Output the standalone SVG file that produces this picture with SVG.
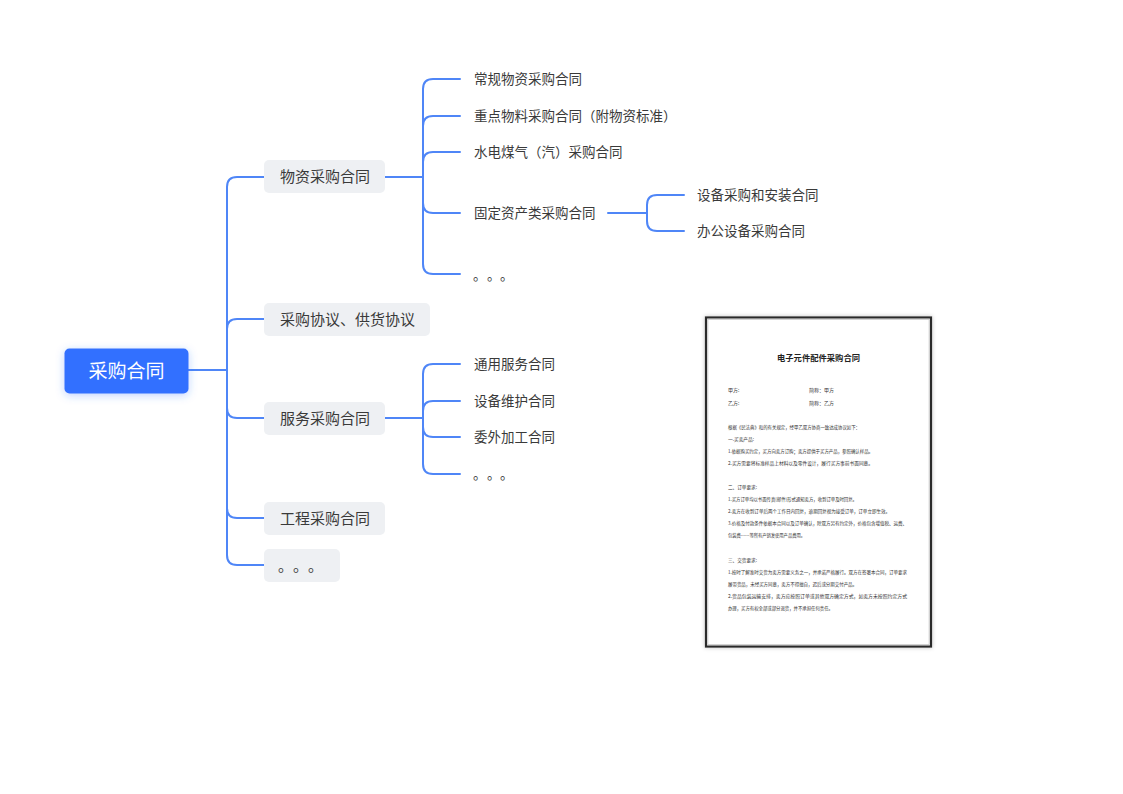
<svg xmlns="http://www.w3.org/2000/svg" width="1123" height="794" viewBox="0 0 1123 794">
<defs>
<filter id="rootShadow" x="-30%" y="-50%" width="160%" height="200%">
<feDropShadow dx="0" dy="2" stdDeviation="4" flood-color="#3370ff" flood-opacity="0.3"/>
</filter>
<filter id="docShadow" x="-10%" y="-10%" width="120%" height="120%">
<feDropShadow dx="0" dy="0" stdDeviation="2" flood-color="#000" flood-opacity="0.25"/>
</filter>
<style>
.conn{fill:none;stroke:#4f86f7;stroke-width:2;stroke-linecap:round;stroke-linejoin:round}
.t{font-family:"Noto Sans CJK SC","Noto Sans",sans-serif;}
.root{fill:#fff;font-size:19px}
.l1box{fill:#eef0f3}
.l1{fill:#3a3a3a;font-size:15px}
.l2{fill:#3a3a3a;font-size:13.5px}
.doc{fill:#333;font-size:5px}
.doct{fill:#222;font-size:8px;font-weight:bold}
</style>
</defs>
<rect width="1123" height="794" fill="#fff"/>

<g id="connectors">
<path class="conn" d="M188,370 H227"/>
<path class="conn" d="M227,370 V187 Q227,177 237,177 H264"/>
<path class="conn" d="M227,370 V329 Q227,319 237,319 H264"/>
<path class="conn" d="M227,370 V408 Q227,418 237,418 H264"/>
<path class="conn" d="M227,370 V508 Q227,518 237,518 H264"/>
<path class="conn" d="M227,370 V555 Q227,565 237,565 H264"/>

<path class="conn" d="M385,177 H423"/>
<path class="conn" d="M423,177 V89 Q423,79 433,79 H460"/>
<path class="conn" d="M423,177 V126 Q423,116 433,116 H460"/>
<path class="conn" d="M423,177 V162 Q423,152 433,152 H460"/>
<path class="conn" d="M423,177 V203 Q423,213 433,213 H460"/>
<path class="conn" d="M423,177 V264 Q423,274 433,274 H460"/>

<path class="conn" d="M608,213 H647"/>
<path class="conn" d="M647,213 V205 Q647,195 657,195 H684"/>
<path class="conn" d="M647,213 V221 Q647,231 657,231 H684"/>

<path class="conn" d="M385,418 H423"/>
<path class="conn" d="M423,418 V374 Q423,364 433,364 H460"/>
<path class="conn" d="M423,418 V411 Q423,401 433,401 H460"/>
<path class="conn" d="M423,418 V427 Q423,437 433,437 H460"/>
<path class="conn" d="M423,418 V464 Q423,474 433,474 H460"/>
</g>

<g id="root">
<rect x="64.5" y="348.5" width="124" height="45" rx="5" fill="#3370ff" filter="url(#rootShadow)"/>
<text class="t root" x="126.5" y="377.5" text-anchor="middle">采购合同</text>
</g>

<g id="n-wuzi">
<rect class="l1box" x="264" y="160" width="121" height="33" rx="5"/>
<text class="t l1" x="280" y="182">物资采购合同</text>
</g>
<g id="n-xieyi">
<rect class="l1box" x="264" y="303" width="166" height="33" rx="5"/>
<text class="t l1" x="280" y="324.5">采购协议、供货协议</text>
</g>
<g id="n-fuwu">
<rect class="l1box" x="264" y="402" width="121" height="33" rx="5"/>
<text class="t l1" x="280" y="423.5">服务采购合同</text>
</g>
<g id="n-gongcheng">
<rect class="l1box" x="264" y="502" width="121" height="33" rx="5"/>
<text class="t l1" x="280" y="523.5">工程采购合同</text>
</g>
<g id="n-more1">
<rect class="l1box" x="264" y="549" width="76" height="33" rx="5"/>
<text class="t l1" y="571"><tspan x="278">。</tspan><tspan x="293">。</tspan><tspan x="308">。</tspan></text>
</g>

<g id="n-changgui"><text class="t l2" x="474" y="84">常规物资采购合同</text></g>
<g id="n-zhongdian"><text class="t l2" x="474" y="121">重点物料采购合同（附物资标准）</text></g>
<g id="n-shuidian"><text class="t l2" x="474" y="157">水电煤气（汽）采购合同</text></g>
<g id="n-guding"><text class="t l2" x="474" y="218">固定资产类采购合同</text></g>
<g id="n-more2"><text class="t l2" y="280"><tspan x="473">。</tspan><tspan x="487">。</tspan><tspan x="500">。</tspan></text></g>

<g id="n-shebei"><text class="t l2" x="697" y="200">设备采购和安装合同</text></g>
<g id="n-bangong"><text class="t l2" x="697" y="236">办公设备采购合同</text></g>

<g id="n-tongyong"><text class="t l2" x="474" y="369">通用服务合同</text></g>
<g id="n-weihu"><text class="t l2" x="474" y="406">设备维护合同</text></g>
<g id="n-weiwai"><text class="t l2" x="474" y="442">委外加工合同</text></g>
<g id="n-more3"><text class="t l2" y="479"><tspan x="473">。</tspan><tspan x="487">。</tspan><tspan x="500">。</tspan></text></g>

<g id="document">
<rect x="706" y="317.5" width="225" height="329" fill="#fff" stroke="#2b2b2b" stroke-width="2.2" filter="url(#docShadow)"/>
<rect x="707.8" y="319.3" width="221.4" height="325.4" fill="none" stroke="#c8c8c8" stroke-width="1"/>
<text class="t doct" x="818.5" y="361" text-anchor="middle" textLength="83" lengthAdjust="spacingAndGlyphs">电子元件配件采购合同</text>
<text class="t doc" x="728" y="392">甲方:</text>
<text class="t doc" x="809" y="392">简称：甲方</text>
<text class="t doc" x="728" y="405">乙方:</text>
<text class="t doc" x="809" y="405">简称：乙方</text>
<text class="t doc" x="728" y="429" textLength="132" lengthAdjust="spacingAndGlyphs">根据《民法典》和的有关规定，经甲乙双方协商一致达成协议如下：</text>
<text class="t doc" x="728" y="441" textLength="26" lengthAdjust="spacingAndGlyphs">一.买卖产品:</text>
<text class="t doc" x="728" y="453" textLength="145" lengthAdjust="spacingAndGlyphs">1.依据购买约定，买方向卖方订购；卖方提供于买方产品，参照确认样品。</text>
<text class="t doc" x="728" y="465" textLength="145" lengthAdjust="spacingAndGlyphs">2.买方需要将标准样品上材料以及零件设计，履行买方事前书面同意。</text>
<text class="t doc" x="728" y="489" textLength="29" lengthAdjust="spacingAndGlyphs">二、订单要求:</text>
<text class="t doc" x="728" y="501" textLength="129" lengthAdjust="spacingAndGlyphs">1.买方订单均以书面传真(邮件)形式通知卖方，收到订单及时回复。</text>
<text class="t doc" x="728" y="513" textLength="162" lengthAdjust="spacingAndGlyphs">2.卖方在收到订单后两个工作日内回复，逾期回复视为接受订单，订单立即生效。</text>
<text class="t doc" x="728" y="525" textLength="179" lengthAdjust="spacingAndGlyphs">3.价格及付款条件依据本合同以及订单确认，除双方另有约定外，价格包含增值税、运费、</text>
<text class="t doc" x="728" y="537" textLength="77" lengthAdjust="spacingAndGlyphs">包装费……等所有产销发使用产品费用。</text>
<text class="t doc" x="728" y="562" textLength="29" lengthAdjust="spacingAndGlyphs">三、交货要求:</text>
<text class="t doc" x="728" y="574" textLength="179" lengthAdjust="spacingAndGlyphs">1.按时了解准时交货为卖方需要义务之一，并承诺严格履行。双方在签署本合同，订单要求</text>
<text class="t doc" x="728" y="586" textLength="129" lengthAdjust="spacingAndGlyphs">履带货品，未经买方同意，卖方不得擅自，迟后或分期交付产品。</text>
<text class="t doc" x="728" y="598" textLength="179" lengthAdjust="spacingAndGlyphs">2.货品包装运输安排，卖方应按照订单或其他双方确定方式，如卖方未按照约定方式</text>
<text class="t doc" x="728" y="610" textLength="105" lengthAdjust="spacingAndGlyphs">办理，买方有权全部或部分退货，并不承担任何责任。</text>
</g>
</svg>
